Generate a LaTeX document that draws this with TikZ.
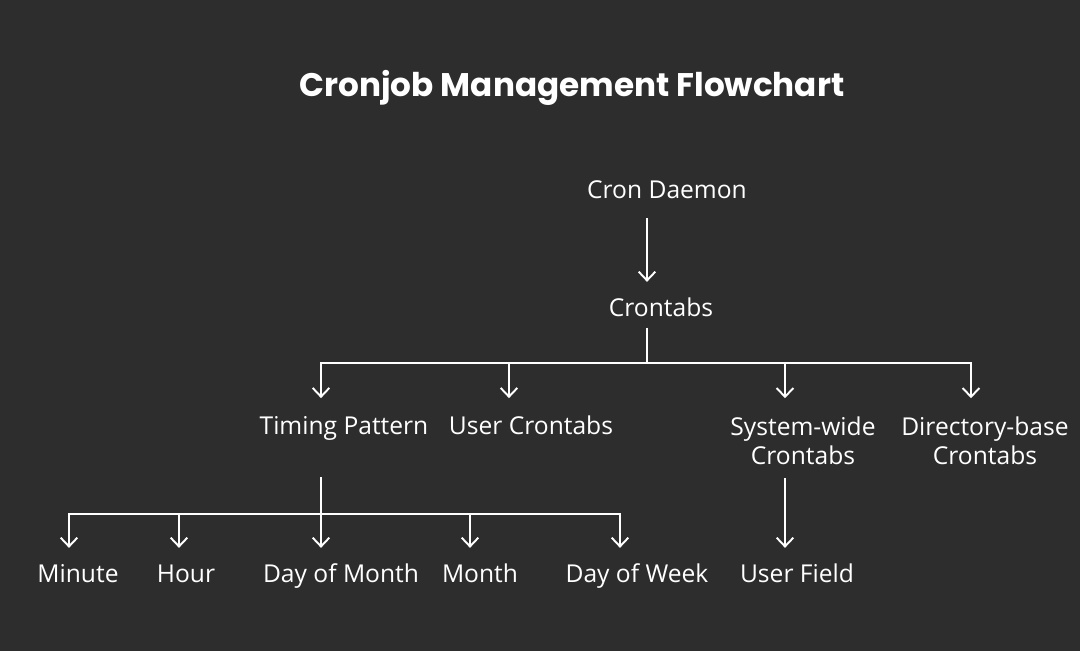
\documentclass[tikz,border=0pt]{standalone}
\usepackage{fontspec}
\setmainfont{Open Sans}
\newfontfamily\titlefont{Poppins}
\usepackage{tikz}
\usetikzlibrary{arrows.meta,positioning,calc}
\definecolor{bgdark}{HTML}{2D2D2D}

\begin{document}
\begin{tikzpicture}[x=0.02cm, y=-0.02cm,
    lbl/.style={text=white, font=\fontsize{14}{17}\selectfont, inner sep=0pt, align=center, anchor=base},
    wire/.style={draw=white, line width=1.1pt},
    arr/.style={wire, -{Straight Barb[length=5pt, width=9.5pt, line width=1.1pt]}}]
        \fill[bgdark] (0,0) rectangle (1080,651);
        \useasboundingbox (0,0) rectangle (1080,651);

        \node (title) at (572,97) [lbl, anchor=base, font=\titlefont\bfseries\fontsize{18.6}{22}\selectfont] {Cronjob Management Flowchart};

        \node (cron) at (667,199) [lbl] {Cron Daemon};
        \node (crontabs) at (661,317) [lbl] {Crontabs};

        \node (timing) at (344,435) [lbl] {Timing Pattern};
        \node (user) at (531,435) [lbl] {User Crontabs};
        %% two-line nodes: base sits on the last line
        \node (system) at (803,465) [lbl] {System-wide\\Crontabs};
        \node (dir) at (985,465) [lbl] {Directory-base\\Crontabs};

        \node (minute) at (78,583) [lbl] {Minute};
        \node (hour) at (186,583) [lbl] {Hour};
        \node (dom) at (341,583) [lbl] {Day of Month};
        \node (month) at (480,583) [lbl] {Month};
        \node (dow) at (637,583) [lbl] {Day of Week};
        \node (field) at (797,583) [lbl] {User Field};

        %% bus points of the two branchings
        \coordinate (cbus) at (647,363);
        \coordinate (tbus) at (321,514);

        \draw[arr] ([xshift=-20*0.02cm, yshift=-11pt]cron.base) -- ([xshift=-14*0.02cm, yshift=20pt]crontabs.base);
        \draw[wire] ([xshift=-14*0.02cm, yshift=-6pt]crontabs.base) -- (cbus);
        \draw[arr] (cbus) -| ([xshift=-23*0.02cm, yshift=21pt]timing.base);
        \draw[arr] (cbus) -| ([xshift=-22*0.02cm, yshift=21pt]user.base);
        \draw[arr] (cbus) -| ([xshift=-18*0.02cm, yshift=38pt]system.base);
        \draw[arr] (cbus) -| ([xshift=-14*0.02cm, yshift=38pt]dir.base);

        \draw[wire] ([xshift=-23*0.02cm, yshift=-24pt]timing.base) -- (tbus);
        \draw[arr] (tbus) -| ([xshift=-9*0.02cm, yshift=20pt]minute.base);
        \draw[arr] (tbus) -| ([xshift=-7*0.02cm, yshift=20pt]hour.base);
        \draw[arr] (tbus) -| ([xshift=-20*0.02cm, yshift=20pt]dom.base);
        \draw[arr] (tbus) -| ([xshift=-10*0.02cm, yshift=20pt]month.base);
        \draw[arr] (tbus) -| ([xshift=-17*0.02cm, yshift=20pt]dow.base);

        \draw[arr] ([xshift=-18*0.02cm, yshift=-7.4pt]system.base) -- ([xshift=-12*0.02cm, yshift=20pt]field.base);
      \end{tikzpicture}
\end{document}
